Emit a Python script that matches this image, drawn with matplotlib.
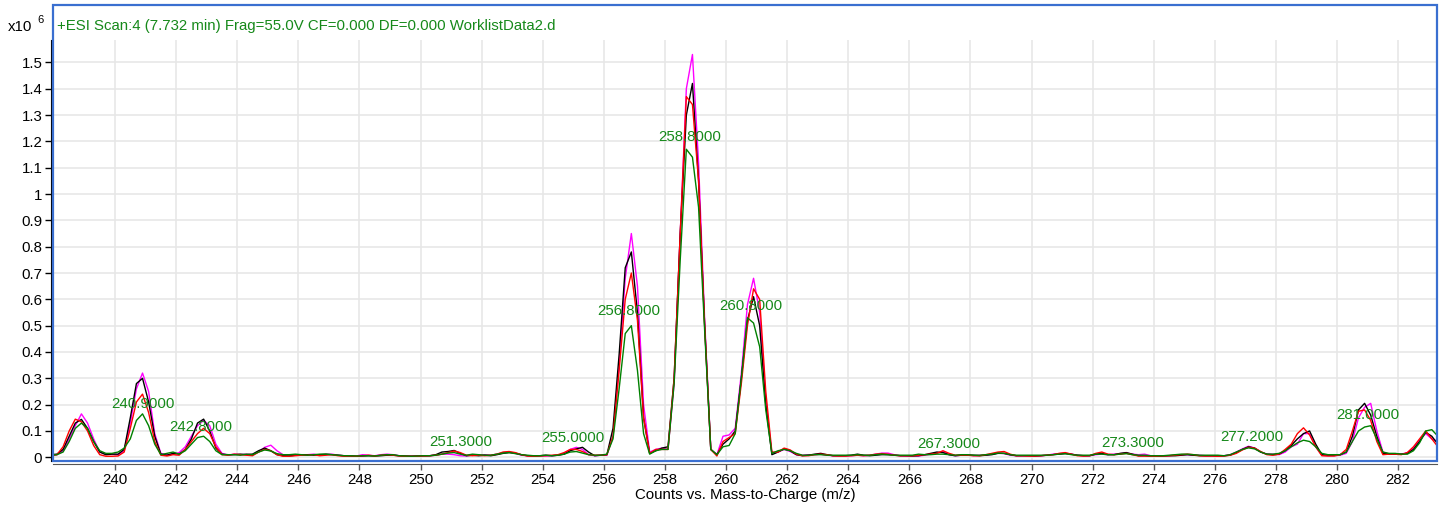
import numpy as np
import matplotlib
matplotlib.use("Agg")
import matplotlib.pyplot as plt
from matplotlib.patches import Rectangle
from matplotlib.ticker import FuncFormatter, MultipleLocator

plt.rcParams['font.family'] = ['Liberation Sans', 'DejaVu Sans']

# m/z sampling grid, 237.9 .. 283.3 in 0.2 steps
mz = np.round(np.arange(237.9, 283.31, 0.2), 1)

# intensities in units of 1e6 counts, one row per 2 m/z
black = [
    0.010, 0.012, 0.030, 0.080, 0.130, 0.144, 0.110, 0.060, 0.020, 0.010,
    0.012, 0.012, 0.030, 0.150, 0.280, 0.300, 0.210, 0.080, 0.012, 0.008,
    0.015, 0.012, 0.030, 0.070, 0.130, 0.145, 0.100, 0.035, 0.012, 0.010,
    0.010, 0.012, 0.010, 0.012, 0.025, 0.035, 0.025, 0.010, 0.006, 0.005,
    0.008, 0.010, 0.010, 0.008, 0.010, 0.012, 0.010, 0.008, 0.006, 0.005,
    0.004, 0.005, 0.006, 0.005, 0.006, 0.008, 0.008, 0.006, 0.005, 0.004,
    0.005, 0.006, 0.006, 0.010, 0.020, 0.022, 0.026, 0.015, 0.006, 0.008,
    0.006, 0.008, 0.006, 0.010, 0.015, 0.018, 0.016, 0.010, 0.006, 0.005,
    0.006, 0.008, 0.006, 0.008, 0.012, 0.025, 0.032, 0.038, 0.020, 0.006,
    0.008, 0.010, 0.110, 0.390, 0.720, 0.780, 0.550, 0.150, 0.015, 0.025,
    0.035, 0.040, 0.300, 0.850, 1.300, 1.420, 1.050, 0.500, 0.030, 0.010,
    0.050, 0.070, 0.100, 0.300, 0.520, 0.610, 0.500, 0.200, 0.010, 0.020,
    0.032, 0.025, 0.010, 0.006, 0.008, 0.012, 0.015, 0.010, 0.006, 0.006,
    0.006, 0.008, 0.012, 0.008, 0.006, 0.008, 0.010, 0.010, 0.008, 0.006,
    0.006, 0.005, 0.006, 0.010, 0.015, 0.020, 0.018, 0.010, 0.006, 0.008,
    0.008, 0.008, 0.006, 0.008, 0.010, 0.015, 0.015, 0.010, 0.006, 0.006,
    0.006, 0.005, 0.006, 0.008, 0.010, 0.012, 0.014, 0.012, 0.008, 0.006,
    0.006, 0.012, 0.015, 0.010, 0.010, 0.015, 0.018, 0.012, 0.006, 0.006,
    0.005, 0.004, 0.005, 0.006, 0.006, 0.008, 0.010, 0.008, 0.006, 0.006,
    0.006, 0.005, 0.006, 0.008, 0.018, 0.030, 0.040, 0.035, 0.020, 0.012,
    0.010, 0.012, 0.025, 0.045, 0.070, 0.090, 0.100, 0.050, 0.010, 0.008,
    0.008, 0.010, 0.020, 0.080, 0.180, 0.205, 0.160, 0.080, 0.015, 0.012,
    0.012, 0.012, 0.015, 0.030, 0.060, 0.095, 0.080, 0.050,
]

magenta = [
    0.008, 0.010, 0.025, 0.070, 0.120, 0.165, 0.130, 0.070, 0.020, 0.012,
    0.012, 0.010, 0.025, 0.130, 0.260, 0.320, 0.250, 0.090, 0.015, 0.010,
    0.012, 0.018, 0.040, 0.080, 0.120, 0.140, 0.120, 0.050, 0.015, 0.008,
    0.012, 0.010, 0.012, 0.010, 0.020, 0.038, 0.046, 0.025, 0.010, 0.008,
    0.010, 0.008, 0.010, 0.012, 0.008, 0.010, 0.012, 0.008, 0.006, 0.006,
    0.005, 0.010, 0.008, 0.006, 0.010, 0.012, 0.010, 0.006, 0.005, 0.005,
    0.006, 0.005, 0.006, 0.008, 0.012, 0.012, 0.010, 0.006, 0.005, 0.010,
    0.008, 0.010, 0.008, 0.012, 0.018, 0.020, 0.015, 0.008, 0.006, 0.006,
    0.006, 0.005, 0.006, 0.008, 0.015, 0.030, 0.038, 0.030, 0.010, 0.006,
    0.008, 0.008, 0.080, 0.350, 0.680, 0.850, 0.650, 0.200, 0.020, 0.030,
    0.035, 0.030, 0.280, 0.850, 1.400, 1.530, 1.120, 0.520, 0.030, 0.010,
    0.080, 0.085, 0.110, 0.320, 0.580, 0.680, 0.550, 0.220, 0.015, 0.020,
    0.030, 0.022, 0.010, 0.008, 0.010, 0.010, 0.012, 0.008, 0.006, 0.006,
    0.006, 0.006, 0.008, 0.006, 0.008, 0.012, 0.016, 0.016, 0.010, 0.006,
    0.005, 0.006, 0.005, 0.008, 0.012, 0.016, 0.022, 0.010, 0.006, 0.008,
    0.010, 0.006, 0.008, 0.008, 0.012, 0.016, 0.014, 0.008, 0.006, 0.006,
    0.006, 0.006, 0.006, 0.008, 0.012, 0.014, 0.016, 0.012, 0.008, 0.006,
    0.006, 0.010, 0.012, 0.010, 0.012, 0.014, 0.016, 0.012, 0.010, 0.012,
    0.006, 0.005, 0.006, 0.006, 0.008, 0.010, 0.010, 0.008, 0.008, 0.006,
    0.006, 0.006, 0.006, 0.010, 0.020, 0.032, 0.042, 0.035, 0.020, 0.012,
    0.012, 0.010, 0.020, 0.040, 0.050, 0.090, 0.090, 0.040, 0.008, 0.006,
    0.006, 0.008, 0.015, 0.060, 0.150, 0.190, 0.205, 0.100, 0.020, 0.012,
    0.012, 0.012, 0.018, 0.035, 0.065, 0.090, 0.070, 0.060,
]

red = [
    0.005, 0.010, 0.040, 0.100, 0.145, 0.135, 0.100, 0.045, 0.010, 0.004,
    0.004, 0.005, 0.020, 0.110, 0.210, 0.240, 0.170, 0.060, 0.008, 0.005,
    0.010, 0.008, 0.030, 0.060, 0.090, 0.110, 0.090, 0.040, 0.010, 0.008,
    0.012, 0.010, 0.008, 0.006, 0.020, 0.030, 0.025, 0.010, 0.004, 0.004,
    0.006, 0.008, 0.008, 0.010, 0.006, 0.008, 0.010, 0.006, 0.004, 0.005,
    0.004, 0.006, 0.008, 0.005, 0.008, 0.010, 0.008, 0.005, 0.004, 0.004,
    0.004, 0.005, 0.006, 0.008, 0.012, 0.018, 0.024, 0.018, 0.008, 0.006,
    0.008, 0.006, 0.008, 0.012, 0.020, 0.022, 0.018, 0.010, 0.005, 0.004,
    0.005, 0.006, 0.008, 0.010, 0.018, 0.030, 0.030, 0.022, 0.010, 0.008,
    0.008, 0.010, 0.080, 0.330, 0.600, 0.700, 0.520, 0.150, 0.015, 0.030,
    0.030, 0.030, 0.300, 0.850, 1.370, 1.340, 1.050, 0.500, 0.030, 0.005,
    0.060, 0.075, 0.090, 0.280, 0.500, 0.640, 0.600, 0.250, 0.020, 0.020,
    0.035, 0.028, 0.012, 0.006, 0.006, 0.010, 0.012, 0.010, 0.006, 0.005,
    0.005, 0.006, 0.008, 0.006, 0.008, 0.012, 0.014, 0.012, 0.008, 0.006,
    0.006, 0.006, 0.008, 0.010, 0.012, 0.015, 0.025, 0.015, 0.008, 0.008,
    0.008, 0.006, 0.006, 0.010, 0.015, 0.020, 0.022, 0.012, 0.006, 0.006,
    0.005, 0.005, 0.006, 0.008, 0.010, 0.015, 0.018, 0.012, 0.006, 0.005,
    0.006, 0.015, 0.020, 0.012, 0.010, 0.012, 0.015, 0.010, 0.005, 0.005,
    0.004, 0.004, 0.005, 0.006, 0.008, 0.010, 0.012, 0.010, 0.006, 0.005,
    0.005, 0.004, 0.005, 0.008, 0.015, 0.028, 0.038, 0.035, 0.022, 0.010,
    0.008, 0.012, 0.030, 0.050, 0.090, 0.112, 0.085, 0.040, 0.006, 0.005,
    0.005, 0.010, 0.030, 0.100, 0.175, 0.180, 0.140, 0.060, 0.010, 0.012,
    0.012, 0.010, 0.018, 0.040, 0.070, 0.100, 0.070, 0.040,
]

green = [
    0.008, 0.010, 0.020, 0.060, 0.110, 0.130, 0.110, 0.060, 0.025, 0.015,
    0.015, 0.020, 0.035, 0.070, 0.140, 0.165, 0.120, 0.050, 0.010, 0.015,
    0.020, 0.012, 0.025, 0.050, 0.075, 0.080, 0.060, 0.025, 0.010, 0.010,
    0.010, 0.008, 0.012, 0.010, 0.020, 0.028, 0.024, 0.014, 0.010, 0.010,
    0.012, 0.010, 0.008, 0.010, 0.012, 0.012, 0.010, 0.008, 0.006, 0.006,
    0.005, 0.006, 0.006, 0.005, 0.008, 0.010, 0.010, 0.006, 0.005, 0.004,
    0.005, 0.006, 0.006, 0.008, 0.012, 0.016, 0.018, 0.012, 0.008, 0.012,
    0.010, 0.008, 0.008, 0.012, 0.016, 0.018, 0.014, 0.010, 0.008, 0.006,
    0.006, 0.008, 0.006, 0.008, 0.012, 0.020, 0.022, 0.016, 0.010, 0.008,
    0.008, 0.012, 0.070, 0.260, 0.470, 0.500, 0.330, 0.090, 0.012, 0.025,
    0.030, 0.030, 0.280, 0.750, 1.170, 1.140, 0.950, 0.480, 0.030, 0.010,
    0.040, 0.045, 0.090, 0.300, 0.530, 0.510, 0.420, 0.180, 0.015, 0.025,
    0.030, 0.025, 0.015, 0.008, 0.008, 0.010, 0.010, 0.008, 0.008, 0.008,
    0.008, 0.008, 0.010, 0.008, 0.008, 0.010, 0.012, 0.010, 0.008, 0.008,
    0.008, 0.008, 0.012, 0.010, 0.010, 0.012, 0.012, 0.010, 0.008, 0.010,
    0.010, 0.008, 0.008, 0.010, 0.012, 0.016, 0.015, 0.010, 0.008, 0.008,
    0.008, 0.008, 0.008, 0.008, 0.010, 0.012, 0.014, 0.010, 0.008, 0.008,
    0.008, 0.012, 0.012, 0.010, 0.010, 0.012, 0.014, 0.010, 0.008, 0.008,
    0.006, 0.006, 0.006, 0.008, 0.010, 0.012, 0.012, 0.010, 0.008, 0.008,
    0.008, 0.008, 0.006, 0.010, 0.020, 0.030, 0.036, 0.032, 0.020, 0.012,
    0.012, 0.015, 0.025, 0.040, 0.055, 0.065, 0.060, 0.040, 0.015, 0.010,
    0.010, 0.010, 0.020, 0.060, 0.100, 0.115, 0.120, 0.070, 0.020, 0.015,
    0.015, 0.012, 0.012, 0.025, 0.055, 0.100, 0.105, 0.080,
]

# peak labels: m/z and the height where each label sits
peak_mz = [240.9, 242.8, 251.3, 255.0, 256.8, 258.8, 260.8, 267.3, 273.3, 277.2, 281.0]
peak_label_y = [0.176, 0.089, 0.032, 0.047, 0.529, 1.19, 0.548, 0.024, 0.028, 0.05, 0.135]

x_ticks = np.arange(240, 283, 2)

GREEN = '#16891a'
FS = 10.8
W, H = 1447, 508

fig = plt.figure(figsize=(W / 100, H / 100), dpi=100)
ax = fig.add_axes([53 / W, 1 - 461 / H, (1437 - 53) / W, (461 - 40) / H])

ax.plot(mz, magenta, color='#ff00ff', lw=1.0)
ax.plot(mz, black, color='black', lw=1.0)
ax.plot(mz, red, color='#ff0000', lw=1.0)
ax.plot(mz, green, color='#008000', lw=1.0)

for m, y in zip(peak_mz, peak_label_y):
    ax.text(m, y, f'{m:.4f}', color=GREEN, fontsize=FS, ha='center', va='bottom')

ax.set_xlim(237.97, 283.27)
ax.set_ylim(-0.014, 1.585)
ax.set_xticks(x_ticks)
ax.yaxis.set_major_locator(MultipleLocator(0.1))
ax.yaxis.set_major_formatter(FuncFormatter(lambda v, p: f'{v:g}' if abs(v) > 1e-9 else '0'))
ax.grid(True, color='#e6e6e6', lw=1.1)
ax.set_axisbelow(True)

for s in ['top', 'right']:
    ax.spines[s].set_visible(False)
ax.spines['left'].set_position(('outward', 1.2))
ax.spines['left'].set_color('black')
ax.spines['bottom'].set_position(('outward', 2))
ax.spines['bottom'].set_color('#555555')
ax.tick_params(axis='y', direction='out', length=4.5, width=1, colors='black',
               labelsize=FS, pad=2)
ax.tick_params(axis='x', direction='out', length=4, width=1, color='#555555',
               labelcolor='black', labelsize=FS, pad=3)

# blue frame around plot and header
fig.patches.append(Rectangle((53 / W, 1 - 461 / H), (1437 - 53) / W, (461 - 5) / H,
                             transform=fig.transFigure, fill=False,
                             edgecolor='#3a6fd0', lw=1.6, zorder=5))

fig.text(57 / W, 1 - 26 / H,
         '+ESI Scan:4 (7.732 min) Frag=55.0V CF=0.000 DF=0.000 WorklistData2.d',
         color=GREEN, fontsize=FS, va='center', ha='left')
fig.text(8 / W, 1 - 27 / H, 'x10', fontsize=FS, va='center', ha='left')
fig.text(37 / W, 1 - 20 / H, '6', fontsize=8, va='center', ha='left')
fig.text(745 / W, 1 - 495 / H, 'Counts vs. Mass-to-Charge (m/z)',
         fontsize=FS, va='center', ha='center')

fig.savefig('out.png', dpi=100)
